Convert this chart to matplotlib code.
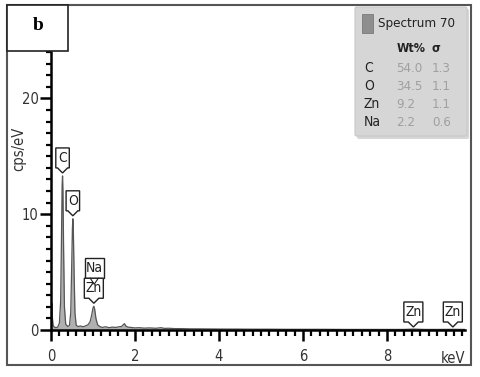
import matplotlib
matplotlib.use("Agg")
import matplotlib.pyplot as plt
import matplotlib.patches as mpatches
import matplotlib.transforms as mtransforms
from matplotlib.ticker import MultipleLocator
from matplotlib import font_manager as fm

# ---- data ----
energy = [0.00, 0.01, 0.02, 0.03, 0.05, 0.08, 0.12, 0.16, 0.20, 0.23, 0.25, 0.265,
          0.275, 0.285, 0.30, 0.32, 0.35, 0.40, 0.44, 0.47, 0.49, 0.51, 0.52, 0.53,
          0.55, 0.57, 0.60, 0.65, 0.70, 0.76, 0.82, 0.88, 0.93, 0.97, 1.00, 1.02,
          1.04, 1.07, 1.11, 1.16, 1.22, 1.30, 1.38, 1.46, 1.54, 1.62, 1.68, 1.72,
          1.75, 1.78, 1.83, 1.90, 2.00, 2.10, 2.22, 2.35, 2.50, 2.62, 2.70, 2.80,
          2.95, 3.10, 3.30, 3.50, 3.80, 4.10, 4.40, 4.80, 5.20, 5.60, 6.00, 6.50,
          7.00, 7.50, 8.00, 8.40, 8.63, 8.90, 9.20, 9.57, 9.86]
cps = [0.30, 1.20, 2.30, 1.20, 0.40, 0.25, 0.20, 0.25, 0.60, 2.50, 8.00, 12.5,
       13.3, 12.0, 7.00, 2.00, 0.50, 0.30, 0.40, 1.50, 5.00, 8.80, 9.60, 9.00,
       5.00, 1.50, 0.40, 0.30, 0.35, 0.28, 0.35, 0.45, 0.70, 1.30, 1.90, 2.05,
       1.80, 1.00, 0.45, 0.30, 0.22, 0.28, 0.20, 0.25, 0.22, 0.28, 0.30, 0.45,
       0.55, 0.35, 0.25, 0.22, 0.18, 0.20, 0.16, 0.18, 0.15, 0.20, 0.14, 0.15,
       0.12, 0.12, 0.10, 0.10, 0.09, 0.08, 0.08, 0.07, 0.07, 0.06, 0.06, 0.06,
       0.05, 0.05, 0.05, 0.05, 0.08, 0.05, 0.05, 0.06, 0.05]

peak_labels = ["C", "O", "Na", "Zn", "Zn", "Zn"]
peak_energy = [0.275, 0.52, 1.03, 1.02, 8.63, 9.57]
peak_height = [13.3, 9.6, 2.05, 2.05, 0.0, 0.0]
label_level = [0, 0, 1, 0, 0, 0]   # stacked label level

elements = ["C", "O", "Zn", "Na"]
wt_pct = ["54.0", "34.5", "9.2", "2.2"]
sigma = ["1.3", "1.1", "1.1", "0.6"]

x_ticks = [0, 2, 4, 6, 8]
y_ticks = [0, 10, 20]

# ---- pick a narrow font if one is installed ----
narrow_path = None
prefs = ["liberationsansnarrow-regular", "dejavusanscondensed.ttf", "robotocondensed-regular",
         "opensans_condensed", "opensanscondensed-regular", "notosans-condensed"]
files = [f.fname for f in fm.fontManager.ttflist]
for p in prefs:
    for f in files:
        if p in f.lower().replace(" ", "").replace("_", "") or p in f.lower():
            narrow_path = f
            break
    if narrow_path:
        break

def fp(size, bold=False):
    if narrow_path and not bold:
        return fm.FontProperties(fname=narrow_path, size=size)
    return fm.FontProperties(family="DejaVu Sans", size=size * (0.9 if not narrow_path else 1.0),
                             weight="bold" if bold else "normal",
                             stretch="condensed")

W, H = 480, 377
fig = plt.figure(figsize=(W / 100, H / 100), dpi=100)

def fx(x):
    return x / W

def fy(y):
    return 1 - y / H

ax = fig.add_axes([fx(51), fy(330), (465 - 51) / W, (330 - 52) / H])
ax.set_xlim(0, 9.86)
ax.set_ylim(0, 24)
ax.fill_between(energy, cps, 0, color="#b0b0b0", lw=0)
ax.plot(energy, cps, color="#555555", lw=0.9)

for s in ["top", "right"]:
    ax.spines[s].set_visible(False)
for s in ["left", "bottom"]:
    ax.spines[s].set_linewidth(1.8)
    ax.spines[s].set_color("black")
ax.set_xticks(x_ticks)
ax.set_yticks(y_ticks)
ax.xaxis.set_minor_locator(MultipleLocator(0.2))
ax.yaxis.set_minor_locator(MultipleLocator(1))
ax.tick_params(which="major", length=8, width=1.8, direction="out",
               colors="black", labelcolor="#333333", pad=6)
ax.tick_params(which="minor", length=4.5, width=1.6, direction="out")
ax.tick_params(axis="y", which="major", length=8, pad=1)
ax.tick_params(axis="y", which="minor", length=3.5)
for lab in ax.get_xticklabels() + ax.get_yticklabels():
    lab.set_fontproperties(fp(10.5))
ax.set_facecolor("none")
ax.set_ylabel("cps/eV", color="#333333", fontproperties=fp(10.5))
ax.yaxis.set_label_coords(-0.06, 0.65)
ax.text(1.0, -0.075, "keV", transform=ax.transAxes, ha="right", va="top",
        fontproperties=fp(10.5), color="#333333")

# peak labels: box with V notch pointing down
scale = mtransforms.Affine2D().scale(1.0)  # pixel units at dpi 100
for lab, xe, ye, lvl in zip(peak_labels, peak_energy, peak_height, label_level):
    wbox = 8 + 5.5 * len(lab)
    notch = 5
    hbox = 20
    base = 3
    y0 = base + notch
    if lvl == 1:
        yb = y0 + hbox
        verts = [(-wbox / 2, yb), (wbox / 2, yb), (wbox / 2, yb + hbox),
                 (-wbox / 2, yb + hbox), (-wbox / 2, yb)]
        ytxt = yb + hbox / 2
    else:
        verts = [(0, base), (notch, y0), (wbox / 2, y0), (wbox / 2, y0 + hbox),
                 (-wbox / 2, y0 + hbox), (-wbox / 2, y0), (-notch, y0), (0, base)]
        ytxt = y0 + hbox / 2
    tr = scale + mtransforms.ScaledTranslation(xe, ye, ax.transData)
    poly = mpatches.Polygon(verts, closed=True, facecolor="white",
                            edgecolor="#222222", lw=1.0, transform=tr, zorder=5,
                            clip_on=False)
    ax.add_patch(poly)
    ax.text(0, ytxt, lab, transform=tr, ha="center", va="center",
            fontproperties=fp(10), color="#222222", zorder=6)
    if lvl == 1:
        ax.plot([-4, 0, 4], [y0 + hbox, y0 + hbox - 6, y0 + hbox], transform=tr,
                color="#222222", lw=0.8, zorder=7)

# outer frame
fig.add_artist(mpatches.Rectangle((fx(6.5), fy(365)), (471 - 6.5) / W, (365 - 4.5) / H,
                                  transform=fig.transFigure, fill=False,
                                  edgecolor="#555555", lw=1.5))
# 'b' box
fig.add_artist(mpatches.Rectangle((fx(7), fy(51)), (68 - 7) / W, (51 - 4.5) / H,
                                  transform=fig.transFigure, facecolor="white",
                                  edgecolor="#222222", lw=1.2, zorder=10))
fig.text(fx(38), fy(26), "b", ha="center", va="center", fontsize=14,
         fontweight="bold", family="Liberation Serif", zorder=11)

# legend box with shadow
fig.add_artist(mpatches.FancyBboxPatch((fx(357), fy(139)), (469 - 357) / W, (139 - 9) / H,
                                       boxstyle="round,pad=0,rounding_size=0.004",
                                       transform=fig.transFigure, facecolor="#bdbdbd",
                                       edgecolor="none", zorder=8, alpha=0.6))
fig.add_artist(mpatches.FancyBboxPatch((fx(355), fy(136)), (467 - 355) / W, (136 - 7) / H,
                                       boxstyle="round,pad=0,rounding_size=0.004",
                                       transform=fig.transFigure, facecolor="#d6d6d6",
                                       edgecolor="#c8c8c8", lw=0.8, zorder=9))
fig.add_artist(mpatches.Rectangle((fx(362), fy(33)), 11 / W, 19 / H,
                                  transform=fig.transFigure, facecolor="#8e8e8e",
                                  edgecolor="#7a7a7a", lw=0.6, zorder=10))
fig.text(fx(378), fy(24), "Spectrum 70", ha="left", va="center",
         fontproperties=fp(9.5), color="#222222", zorder=11)
fig.text(fx(397), fy(49), "Wt%", ha="left", va="center",
         fontproperties=fp(9, bold=True), color="#222222", zorder=11)
fig.text(fx(432), fy(49), "σ", ha="left", va="center",
         fontproperties=fp(9, bold=True), color="#222222", zorder=11)
row_y = [68, 86, 104, 122]
for el, wt, sg, yy in zip(elements, wt_pct, sigma, row_y):
    fig.text(fx(364), fy(yy), el, ha="left", va="center", fontproperties=fp(10),
             color="#222222", zorder=11)
    fig.text(fx(396), fy(yy), wt, ha="left", va="center", fontproperties=fp(9.5),
             color="#a0a0a0", zorder=11)
    fig.text(fx(432), fy(yy), sg, ha="left", va="center", fontproperties=fp(9.5),
             color="#a0a0a0", zorder=11)

fig.savefig("out.png", dpi=100)
